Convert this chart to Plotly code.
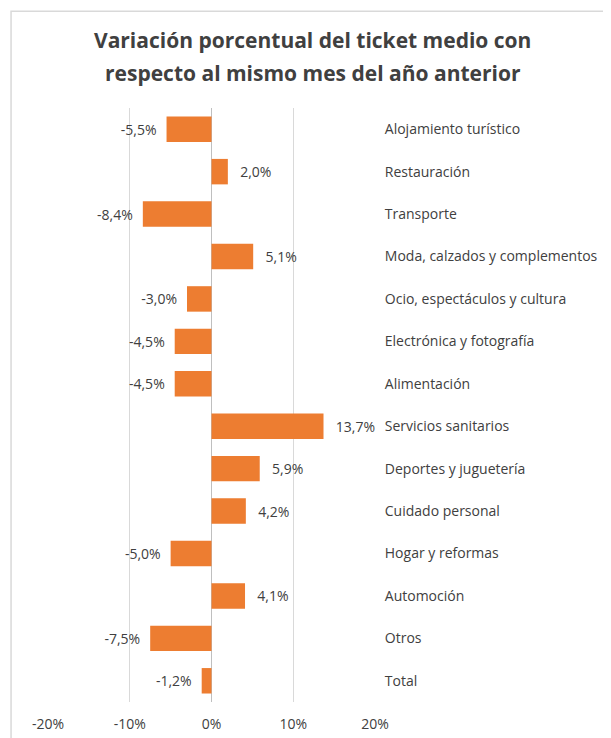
import plotly.graph_objects as go

categorias = [
    "Alojamiento turístico",
    "Restauración",
    "Transporte",
    "Moda, calzados y complementos",
    "Ocio, espectáculos y cultura",
    "Electrónica y fotografía",
    "Alimentación",
    "Servicios sanitarios",
    "Deportes y juguetería",
    "Cuidado personal",
    "Hogar y reformas",
    "Automoción",
    "Otros",
    "Total",
]
variacion = [-5.5, 2.0, -8.4, 5.1, -3.0, -4.5, -4.5, 13.7, 5.9, 4.2, -5.0, 4.1, -7.5, -1.2]
x_ticks = [-20, -10, 0, 10, 20]
x_tick_labels = ["-20%", "-10%", "0%", "10%", "20%"]

FONT = "Open Sans, Noto Sans, sans-serif"
GRIS = "#404040"


def etiqueta(v):
    # separación extra entre barra y etiqueta, como en Excel
    s = f"{v:.1f}%".replace(".", ",")
    return s + "\u2002" if v < 0 else "\u2002\u2009" + s


etiquetas = [etiqueta(v) for v in variacion]

fig = go.Figure(
    go.Bar(
        x=variacion,
        y=categorias,
        orientation="h",
        marker=dict(color="#ED7D31", line=dict(width=0)),
        text=etiquetas,
        textposition="outside",
        constraintext="none",
        cliponaxis=False,
        textfont=dict(size=14, color=GRIS, family=FONT),
    )
)

# Título en dos líneas (posiciones en coordenadas del área de trazado)
for texto, y in [
    ("<b>Variación porcentual del ticket medio con</b>", 1.1145),
    ("<b>respecto al mismo mes del año anterior</b>", 1.0589),
]:
    fig.add_annotation(
        text=texto, xref="paper", yref="paper", x=0.81, y=y,
        xanchor="center", yanchor="middle", showarrow=False,
        font=dict(size=21, color=GRIS, family=FONT),
    )

# Marco del gráfico
fig.add_shape(
    type="rect", xref="paper", yref="paper",
    x0=-0.113, x1=1.9, y0=-0.2, y1=1.163,
    line=dict(color="#d9d9d9", width=1.5), layer="below",
)

fig.update_layout(
    width=603,
    height=730,
    margin=dict(l=40, r=236, t=100, b=36),
    paper_bgcolor="white",
    plot_bgcolor="white",
    showlegend=False,
    bargap=0.4,
    font=dict(family=FONT, size=14, color=GRIS),
    xaxis=dict(
        range=[-20, 20],
        tickvals=x_ticks,
        ticktext=x_tick_labels,
        showgrid=True,
        gridcolor="#d9d9d9",
        gridwidth=1,
        zeroline=True,
        zerolinecolor="#bfbfbf",
        zerolinewidth=1,
        showline=False,
        ticks="outside",
        ticklen=9,
        tickcolor="rgba(0,0,0,0)",
        tickfont=dict(size=14, color=GRIS),
        automargin=False,
        fixedrange=True,
    ),
    yaxis=dict(
        autorange="reversed",
        side="right",
        showgrid=False,
        showline=False,
        ticks="outside",
        ticklen=6,
        tickcolor="rgba(0,0,0,0)",
        tickfont=dict(size=14, color=GRIS),
        automargin=False,
        fixedrange=True,
    ),
)

fig.write_html("out.html")
